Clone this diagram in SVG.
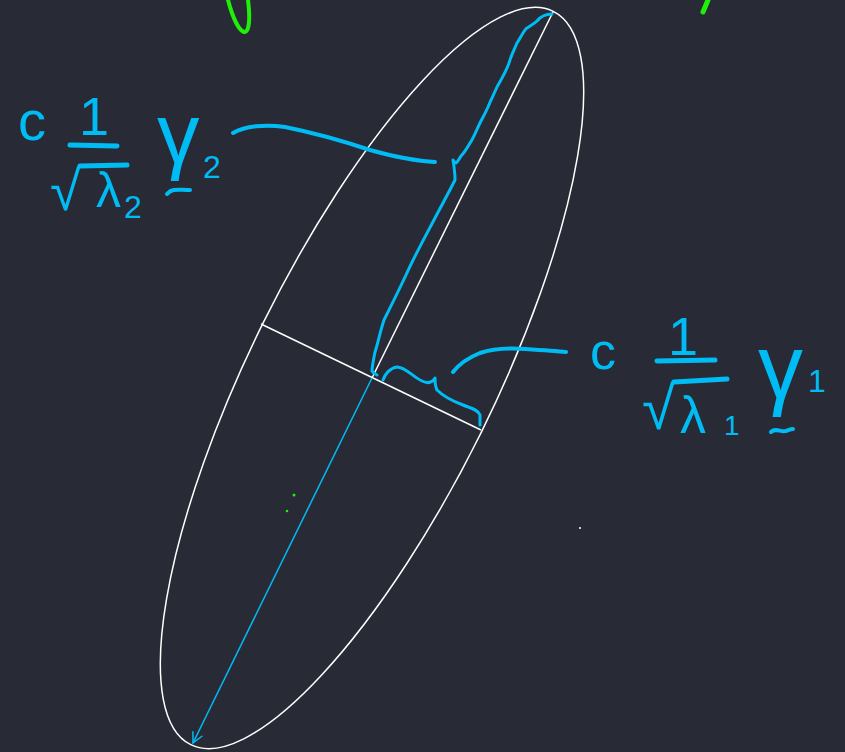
<svg xmlns="http://www.w3.org/2000/svg" width="845" height="752" viewBox="0 0 845 752">
<style>
.bg{fill:#282b36}
.wl{fill:none;stroke:#ffffff;stroke-width:1.5}
.ink{fill:none;stroke:#00bcf5;stroke-linecap:round;stroke-linejoin:round}
.grn{fill:none;stroke:#1ff00a;stroke-linecap:round;stroke-linejoin:round}
.t{fill:#00bcf5;font-family:"Liberation Sans","DejaVu Sans",sans-serif}
</style>
<defs>
<marker id="ah" viewBox="0 0 12 12" refX="11" refY="6" markerWidth="12" markerHeight="12" markerUnits="userSpaceOnUse" orient="auto">
<path d="M1,1 L11,6 L1,11" fill="none" stroke="#00bcf5" stroke-width="1.5" stroke-linecap="round"/>
</marker>
</defs>
<rect class="bg" x="0" y="0" width="845" height="752"/>
<g id="ellipse">
<ellipse class="wl" cx="372" cy="378" rx="409" ry="122" transform="rotate(-63.7 372 378)"/>
</g>
<g id="axes">
<line class="wl" x1="553" y1="12" x2="372" y2="378"/>
<line class="wl" x1="261" y1="324" x2="481" y2="430"/>
<line x1="372" y1="378" x2="193" y2="743" stroke="#00bcf5" stroke-width="1.5" marker-end="url(#ah)"/>
</g>
<g id="connectors">
<path class="ink" stroke-width="3" d="M552,14 C546,14 541,16 537,21 C533,25 527,27 525,30 C521,36 519,40 517,43 C514,50 511,56 510,60 C508,68 504,75 497,87 C493,96 490,102 488,107 C485,114 482,119 480,123 C476,131 473,139 470,143 C466,150 463,154 461,156 C459,159 458,162 456,163 C454,162 453,160 453,160 C454,166 455,172 455,180 C450,190 443,203 435,218 C425,237 415,255 406,275 C398,292 390,308 384,320 C380,332 378,343 375,352 C373,362 372,368 372,371 C373,373 375,374 377,375"/>
<path class="ink" stroke-width="4" d="M233,133 C245,126 265,124 285,127 C310,132 340,140 370,150 C395,157 415,161 435,162"/>
<path class="ink" stroke-width="3" d="M383,380 C385,374 390,368 397,367 C405,367 412,376 422,381 C428,384 432,383 435,378 C435,384 436,388 437,390 C443,396 455,402 463,405 C470,408 478,409 480,415 L480,425"/>
<path class="ink" stroke-width="4" d="M453,372 C460,363 470,357 480,353 C495,348 510,348 525,349 C540,350 555,351 566,352"/>
</g>
<g id="label-v2">
<text class="t" x="18" y="140" font-size="56">c</text>
<text class="t" x="94" y="135" font-size="54" text-anchor="middle">1</text>
<line class="ink" stroke-width="5" x1="70" y1="145" x2="117" y2="146"/>
<text class="t" x="50" y="210" font-size="56">√</text>
<line class="ink" stroke-width="5" x1="80" y1="166" x2="127" y2="165"/>
<text class="t" x="96" y="207" font-size="50">λ</text>
<text class="t" x="124" y="218" font-size="32">2</text>
<text class="t" x="157" y="163" font-size="85">γ</text>
<text class="t" x="203" y="178" font-size="32">2</text>
<path class="ink" stroke-width="4" d="M167,194 C172,188 178,190 190,190"/>
</g>
<g id="label-v1">
<text class="t" x="590" y="369" font-size="52">c</text>
<text class="t" x="683" y="355" font-size="54" text-anchor="middle">1</text>
<line class="ink" stroke-width="5" x1="657" y1="361" x2="715" y2="360"/>
<text class="t" x="642" y="429" font-size="60">√</text>
<line class="ink" stroke-width="5" x1="674" y1="382" x2="727" y2="379"/>
<text class="t" x="680" y="433" font-size="52">λ</text>
<text class="t" x="724" y="435" font-size="28">1</text>
<text class="t" x="758" y="398" font-size="90">γ</text>
<text class="t" x="808" y="392" font-size="32">1</text>
<path class="ink" stroke-width="4" d="M771,432 C776,427 781,433 786,431 C789,430 791,429 793,429"/>
</g>
<g id="marks">
<path class="grn" stroke-width="4" d="M228,0 C232,15 238,30 244,32 C250,33 250,15 248,0"/>
<path class="grn" stroke-width="5" d="M708,0 L703,12"/>
<circle cx="294" cy="495" r="1.5" fill="#1ff00a"/>
<circle cx="287" cy="511" r="1.3" fill="#1ff00a"/>
<circle cx="580" cy="528" r="1" fill="#ffffff"/>
</g>
</svg>
